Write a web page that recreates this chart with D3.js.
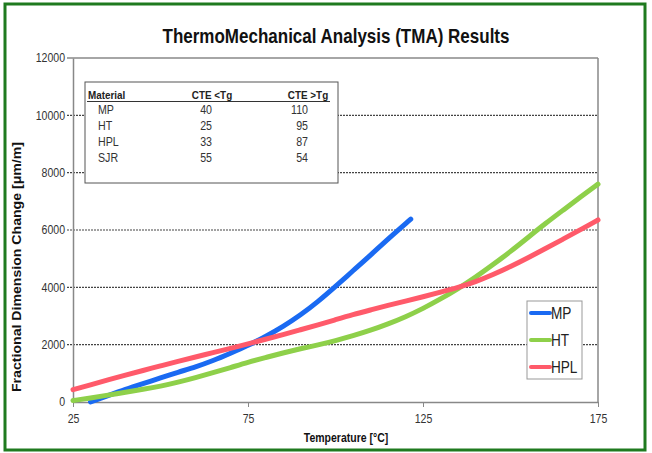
<!DOCTYPE html>
<html>
<head>
<meta charset="utf-8">
<script src="https://cdn.jsdelivr.net/npm/d3@7"></script>
<style>
  body { margin: 0; background: #fff; }
  text { font-family: "Liberation Sans Narrow", "Arial Narrow", "Liberation Sans", Arial, sans-serif; }
</style>
</head>
<body>
<svg id="chart"></svg>
<script>
// Table shown inside the plot
var materials = ["MP", "HT", "HPL", "SJR"];
var cteBelow = [40, 25, 33, 55];
var cteAbove = [110, 95, 87, 54];

// Curves: [temperature, dimension change]
var mpData = [[30,0],[35,220],[40,440],[45,640],[50,840],[55,1040],[60,1220],[65,1440],[70,1700],
  [75,1970],[80,2280],[85,2630],[90,3030],[95,3500],[100,4030],[105,4580],[110,5120],[115,5690],[121.5,6380]];
var htData = [[25,50],[30,140],[35,240],[40,340],[45,440],[50,550],[55,690],[60,850],[65,1020],[70,1200],
  [75,1390],[80,1550],[85,1710],[90,1860],[95,1990],[100,2140],[105,2310],[110,2500],[115,2720],[120,2970],
  [125,3260],[130,3590],[135,3950],[140,4350],[145,4790],[150,5250],[155,5740],[160,6230],[165,6690],[170,7150],[175,7600]];
var hplData = [[25,430],[30,600],[35,770],[40,940],[45,1100],[50,1260],[55,1420],[60,1570],[65,1720],[70,1870],
  [75,2030],[80,2190],[85,2350],[90,2520],[95,2690],[100,2870],[105,3050],[110,3210],[115,3370],[120,3520],
  [125,3670],[130,3830],[135,3990],[140,4190],[145,4440],[150,4720],[155,5030],[160,5350],[165,5680],[170,6010],[175,6350]];

var seriesNames = ["MP", "HT", "HPL"];
var seriesColors = ["#1a6af2", "#8ed04a", "#ff5a6a"];
var seriesData = [mpData, htData, hplData];

var xTicks = [25, 75, 125, 175];
var yTicks = [0, 2000, 4000, 6000, 8000, 10000, 12000];

var W = 652, H = 453;
var plot = {left: 73, right: 598, top: 58, bottom: 402};

var svg = d3.select("#chart").attr("width", W).attr("height", H);

// text squeezed horizontally to look like a narrow face
function label(parent, x, y, str, size, weight, anchor, sx, fill) {
  return parent.append("text")
    .attr("transform", "translate(" + x + "," + y + ") scale(" + sx + ",1)")
    .attr("text-anchor", anchor)
    .text(str)
    .style("font-size", size + "px")
    .style("font-weight", weight)
    .style("fill", fill || "#222");
}

// outer green frame
svg.append("rect")
  .attr("x", 5).attr("y", 4).attr("width", 640).attr("height", 446)
  .style("fill", "#fff").style("stroke", "#1f7a1f").style("stroke-width", 3);

var x = d3.scaleLinear().domain([25, 175]).range([plot.left, plot.right]);
var y = d3.scaleLinear().domain([0, 12000]).range([plot.bottom, plot.top]);

// dotted gridlines (they also poke out left of the axis as ticks)
svg.selectAll(".grid")
  .data(yTicks.filter(function(d) { return d > 0 && d < 12000; }))
  .enter().append("line")
  .attr("x1", plot.left - 6).attr("x2", plot.right)
  .attr("y1", function(d) { return y(d); }).attr("y2", function(d) { return y(d); })
  .style("stroke", "#444").style("stroke-width", 1.2).style("stroke-dasharray", "2,1");

// frame of plot area
svg.append("line").attr("x1", plot.left - 6).attr("x2", plot.right).attr("y1", plot.top).attr("y2", plot.top)
  .style("stroke", "#888").style("stroke-width", 1.5);
svg.append("line").attr("x1", plot.right).attr("x2", plot.right).attr("y1", plot.top).attr("y2", plot.bottom)
  .style("stroke", "#888").style("stroke-width", 1.5);

// axes
var yAxis = d3.axisLeft(y).tickValues(yTicks).tickFormat(d3.format("d")).tickSize(0).tickPadding(9);
var gy = svg.append("g").attr("transform", "translate(" + plot.left + ",0)").call(yAxis);
gy.select(".domain").style("stroke", "#888").style("stroke-width", 1.5);
gy.selectAll("text").style("font-size", "12px").style("fill", "#333")
  .attr("transform", "scale(0.88,1)");

var xAxis = d3.axisBottom(x).tickValues(xTicks).tickSize(5).tickPadding(7).tickSizeOuter(0);
var gx = svg.append("g").attr("transform", "translate(0," + plot.bottom + ")").call(xAxis);
gx.select(".domain").style("stroke", "#888").style("stroke-width", 1.5);
gx.selectAll(".tick line").style("stroke", "#888");
gx.selectAll("text").style("font-size", "12px").style("fill", "#333")
  .attr("transform", "scale(0.88,1)");

// curves
var line = d3.line()
  .x(function(d) { return x(d[0]); })
  .y(function(d) { return y(d[1]); })
  .curve(d3.curveBasis);

svg.selectAll(".curve")
  .data(seriesData)
  .enter().append("path")
  .attr("d", line)
  .style("fill", "none")
  .style("stroke", function(d, i) { return seriesColors[i]; })
  .style("stroke-width", 5)
  .style("stroke-linecap", "round");

// CTE table
var tbl = svg.append("g");
tbl.append("rect").attr("x", 85).attr("y", 82).attr("width", 253).attr("height", 101)
  .style("fill", "#fff").style("stroke", "#555").style("stroke-width", 1);
label(tbl, 88, 99, "Material", 11.5, "bold", "start", 0.86);
label(tbl, 212, 99, "CTE <Tg", 11.5, "bold", "middle", 0.86);
label(tbl, 308, 99, "CTE >Tg", 11.5, "bold", "middle", 0.86);
tbl.append("line").attr("x1", 87).attr("x2", 330).attr("y1", 101.5).attr("y2", 101.5)
  .style("stroke", "#333").style("stroke-width", 1);

var rowY = d3.scalePoint().domain(materials).range([114, 162]);
materials.forEach(function(m, i) {
  label(tbl, 98, rowY(m), m, 13, "normal", "start", 0.82, "#333");
  label(tbl, 212, rowY(m), cteBelow[i], 13, "normal", "end", 0.82, "#333");
  label(tbl, 308, rowY(m), cteAbove[i], 13, "normal", "end", 0.82, "#333");
});

// legend
var leg = svg.append("g");
leg.append("rect").attr("x", 527).attr("y", 301).attr("width", 55).attr("height", 78)
  .style("fill", "#fff").style("stroke", "#999").style("stroke-width", 1);
var legY = d3.scalePoint().domain(seriesNames).range([313, 367]);
seriesNames.forEach(function(n, i) {
  leg.append("line").attr("x1", 531).attr("x2", 550).attr("y1", legY(n)).attr("y2", legY(n))
    .style("stroke", seriesColors[i]).style("stroke-width", 4).style("stroke-linecap", "round");
  label(leg, 551, legY(n) + 6, n, 16, "normal", "start", 0.85, "#222");
});

// titles
label(svg, 336, 43, "ThermoMechanical Analysis (TMA) Results", 21, "bold", "middle", 0.81, "#111");
label(svg, 346, 442, "Temperature [°C]", 12.5, "bold", "middle", 0.84, "#111");
svg.append("text")
  .attr("transform", "translate(21,267) rotate(-90)")
  .attr("text-anchor", "middle")
  .attr("textLength", 250).attr("lengthAdjust", "spacingAndGlyphs")
  .text("Fractional Dimension Change [μm/m]")
  .style("font-family", "'Liberation Sans', Arial, sans-serif")
  .style("font-size", "12px").style("font-weight", "bold").style("fill", "#111");
</script>
</body>
</html>
